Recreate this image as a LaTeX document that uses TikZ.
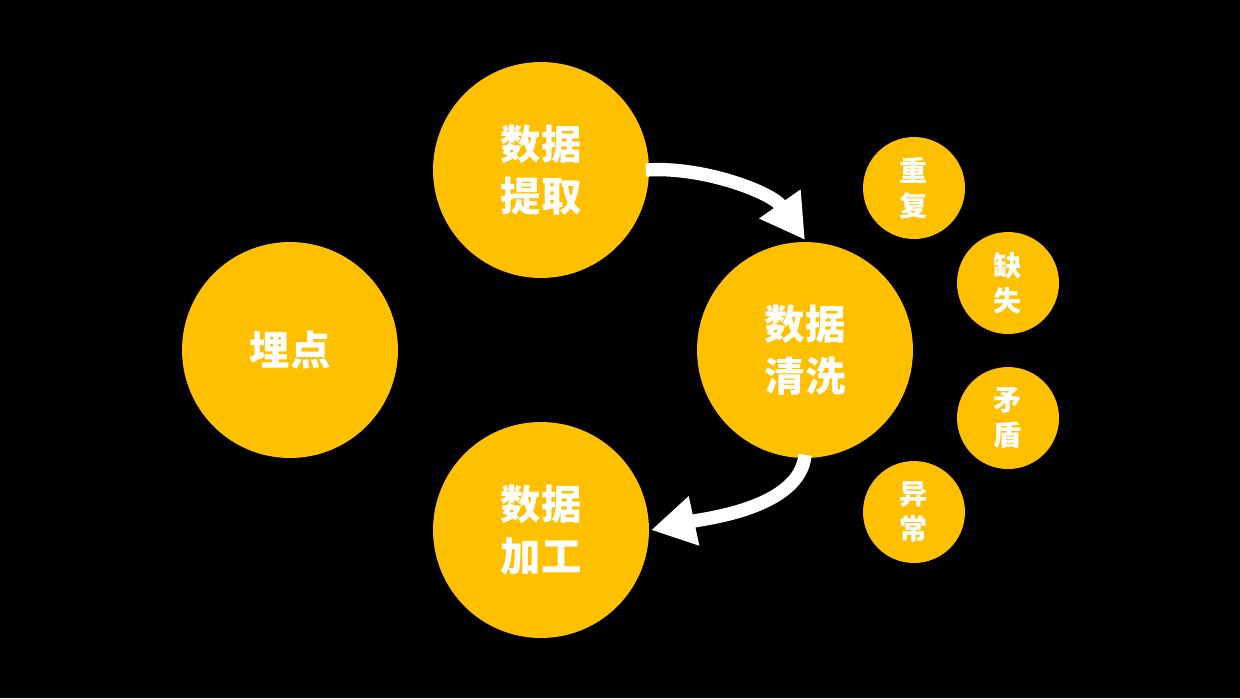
\documentclass[tikz,border=0pt]{standalone}
\usepackage{fontspec}
\newfontfamily\cjk{Noto Sans CJK SC}
\usetikzlibrary{arrows.meta}
\definecolor{gold}{HTML}{FFC000}
\tikzset{
  big/.style={circle, fill=gold, minimum size=4.32cm, inner sep=0pt, text=white,
    align=center, font=\cjk\bfseries\fontsize{23}{29.5}\selectfont},
  small/.style={circle, fill=gold, minimum size=2.04cm, inner sep=0pt, text=white,
    align=center, font=\cjk\bfseries\fontsize{16}{20}\selectfont},
  flow/.style={white, line width=7.6pt,
    -{Triangle[length=25pt, width=27pt]}}
}
\begin{document}
\begin{tikzpicture}[x=0.02cm, y=0.02cm]
  \fill[black] (0,0) rectangle (1240,-698);
  \useasboundingbox (0,0) rectangle (1240,-698);
  \node[big] (maidian) at (290,-350) {埋点};
  \node[big] (tiqu) at (541,-170) {数据\\提取};
  \node[big] (qingxi) at (805,-350) {数据\\清洗};
  \node[big] (jiagong) at (541,-530) {数据\\加工};
  \node[small] (chongfu) at (914,-188) {重\\复};
  \node[small] (queshi) at (1008,-283) {缺\\失};
  \node[small] (maodun) at (1008,-418) {矛\\盾};
  \node[small] (yichang) at (914,-512) {异\\常};
  \draw[flow] ([xshift=-2pt]tiqu.east) to[out=4, in=125, looseness=0.85] ([yshift=1pt]qingxi.north);
  \draw[flow] ([yshift=2pt]qingxi.south) to[out=-95, in=12, looseness=0.8] ([xshift=1pt]jiagong.east);
\end{tikzpicture}
\end{document}
